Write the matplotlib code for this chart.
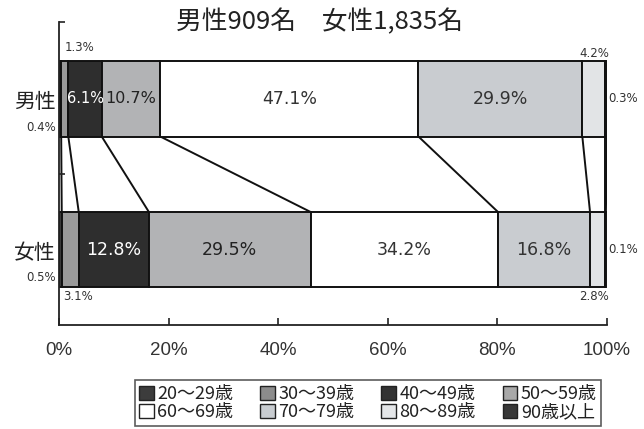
import matplotlib
matplotlib.use("Agg")
import matplotlib.pyplot as plt
from matplotlib.patches import Patch
import numpy as np

plt.rcParams['font.family'] = ['Noto Sans CJK JP', 'DejaVu Sans']

title = "男性909名　女性1,835名"
groups = ["男性", "女性"]
age_labels = ["20～29歳", "30～39歳", "40～49歳", "50～59歳",
              "60～69歳", "70～79歳", "80～89歳", "90歳以上"]
male = [0.4, 1.3, 6.1, 10.7, 47.1, 29.9, 4.2, 0.3]
female = [0.5, 3.1, 12.8, 29.5, 34.2, 16.8, 2.8, 0.1]
xticks = [0, 20, 40, 60, 80, 100]
xtick_labels = ["0%", "20%", "40%", "60%", "80%", "100%"]

colors = ["#3a3a3a", "#9a9a9a", "#2e2e2e", "#b2b3b5",
          "#ffffff", "#c9ccd0", "#e2e4e6", "#383838"]
legend_colors = ["#3c3c3c", "#8c8c8c", "#333333", "#a8a8a8",
                 "#ffffff", "#c8ccd0", "#e4e6e8", "#383838"]
text_colors = ["#222", "#222", "white", "#222", "#333", "#333", "#333", "#333"]

fig = plt.figure(figsize=(6.44, 4.29), dpi=100)
fig.patch.set_facecolor("white")
ax = fig.add_axes([59/644, 1-325/429, (607-59)/644, (325-22)/429])

ypos = {"男性": 1.0, "女性": 0.0}
h = 0.5
data = {"男性": male, "女性": female}
for g in groups:
    vals = data[g]
    left = 0.0
    for i, v in enumerate(vals):
        ax.barh(ypos[g], v, left=left, height=h, color=colors[i],
                edgecolor="#111", linewidth=1.4, zorder=2)
        left += v

# inside labels
def inside(g, idx, txt, fs=12.5):
    vals = data[g]
    c = sum(vals[:idx]) + vals[idx] / 2
    ax.text(c, ypos[g], txt, ha="center", va="center", fontsize=fs,
            color=text_colors[idx], family=["DejaVu Sans"], zorder=3)

inside("男性", 2, f"{male[2]}%", fs=10.5)
inside("男性", 3, f"{male[3]}%", fs=11.5)
for idx in [4, 5]:
    inside("男性", idx, f"{male[idx]}%")
for idx in [2, 3, 4, 5]:
    inside("女性", idx, f"{female[idx]}%")

# small outside labels
small = dict(fontsize=8.5, color="#333", family=["DejaVu Sans"])
ax.text(1.0, 1 + h/2 + 0.05, f"{male[1]}%", ha="left", va="bottom", **small)
ax.text(-0.6, 1 - h/2 + 0.02, f"{male[0]}%", ha="right", va="bottom", **small)
ax.text(97.6, 1 + h/2 + 0.005, f"{male[6]}%", ha="center", va="bottom", **small)
ax.text(100.3, 1.0, f"{male[7]}%", ha="left", va="center", **small)
ax.text(-0.6, -h/2 + 0.02, f"{female[0]}%", ha="right", va="bottom", **small)
ax.text(0.8, -h/2 - 0.02, f"{female[1]}%", ha="left", va="top", **small)
ax.text(97.6, -h/2 - 0.02, f"{female[6]}%", ha="center", va="top", **small)
ax.text(100.3, 0.0, f"{female[7]}%", ha="left", va="center", **small)

# connector lines
mc = np.cumsum(male)
fc = np.cumsum(female)
for a, b in zip(mc, fc):
    ax.plot([a, b], [1 - h/2, h/2], color="#111", lw=1.4, zorder=1)

ax.set_xlim(0, 100)
ytop = 1.51
ax.set_ylim(-0.5, ytop)
ax.set_yticks([0.5, ytop])
ax.set_yticklabels([])
ax.tick_params(axis="y", direction="in", length=4, width=1.2, colors="#222")
ax.set_xticks(xticks)
ax.set_xticklabels(xtick_labels, fontsize=13.5, color="#333",
                   family=["Liberation Sans", "DejaVu Sans"])
ax.tick_params(axis="x", direction="in", length=5, width=1.2, pad=12, colors="#222")
for lbl in ax.get_xticklabels():
    lbl.set_color("#333")
for s in ["top", "right"]:
    ax.spines[s].set_visible(False)
for s in ["left", "bottom"]:
    ax.spines[s].set_linewidth(1.3)
    ax.spines[s].set_color("#222")

for g in groups:
    ax.text(-0.6, ypos[g] - 0.02, g, ha="right", va="center", fontsize=15,
            color="#222", transform=ax.transData)

fig.text(320/644, 1 - 22/429, title, ha="center", va="center", fontsize=18.5, color="#222")

handles = [Patch(facecolor=legend_colors[i], edgecolor="#222", linewidth=1.0)
           for i in range(8)]
order = [0, 4, 1, 5, 2, 6, 3, 7]
leg = fig.legend([handles[i] for i in order], [age_labels[i] for i in order],
                 loc="center", bbox_to_anchor=(368/644, 1 - 403/429), ncol=4,
                 frameon=True, fancybox=False, edgecolor="#333", fontsize=13,
                 handlelength=0.8, handleheight=0.8, handletextpad=0.2,
                 columnspacing=1.5, labelspacing=0.0, borderpad=0.25)
leg.get_frame().set_linewidth(1.2)
for t in leg.get_texts():
    t.set_color("#222")

fig.savefig("out.png", dpi=100, facecolor="white")
